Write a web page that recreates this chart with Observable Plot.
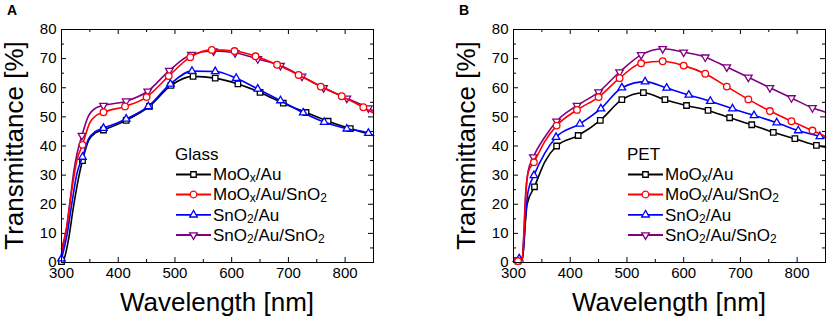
<!DOCTYPE html>
<html><head><meta charset="utf-8">
<script src="https://cdn.jsdelivr.net/npm/d3@7"></script>
<script src="https://cdn.jsdelivr.net/npm/@observablehq/plot@0.6"></script>
<style>
body{margin:0;background:#fff;}
#wrap{display:flex;width:829px;height:317px;overflow:hidden;}
#wrap svg{display:block}
</style></head><body><div id="wrap"></div>
<script>
// ---- tick values ----
const xMajor = [300,400,500,600,700,800];
const xMinor = [350,450,550,650,750,850];
const yMajor = [0,10,20,30,40,50,60,70,80];
const yMinor = [5,15,25,35,45,55,65,75];

// ---- legend / series names ----
const seriesNames = ["MoOx/Au","MoOx/Au/SnO2","SnO2/Au","SnO2/Au/SnO2"];
const seriesColors = ["#000000","#ff0000","#0000ff","#800080"];
const panelTitles = ["Glass","PET"];
const panelLetters = ["A","B"];

// ---- Panel A (Glass) ----
const aBlackWl = [300,305,312,321,330,337,348,360,374,414,455,493,532,571,611,650,691,731,770,809,850];
const aBlackT  = [0.3,1.5,7.5,19,29,35,42,44.5,45.5,48.8,53.6,60.8,63.9,63.3,61.3,58.4,54.7,51.5,48.5,46.0,43.6];
const aBlackMk = [300,337,374,414,455,493,532,571,611,650,691,731,770,809];

const aRedWl = [300,309,318,327,337,350,360,374,412,450,489,527,565,605,642,680,718,757,794,832,850];
const aRedT  = [4.7,12,24.7,35,40.4,48,50.3,51.6,53.6,56.8,64.0,70.5,73.0,72.6,70.8,67.9,64.4,60.4,57.1,53.3,51.3];
const aRedMk = [337,374,412,450,489,527,565,605,642,680,718,757,794,832];

const aBlueWl = [300,309,318,327,337,348,360,374,414,453,492,530,571,608,646,686,726,763,803,841,850];
const aBlueT  = [1.3,8.7,20,30.4,36.2,42.5,45,46.1,49.3,53.6,61.3,65.7,65.6,63.3,59.6,55.6,51.4,48.2,45.9,44.4,43.5];
const aBlueMk = [300,337,374,414,453,492,530,571,608,646,686,726,763,803,841];

const aPurpleWl = [300,309,315,322,327,336,348,360,374,414,452,490,529,568,606,646,686,724,762,803,841,850];
const aPurpleT  = [3,12,21,31.6,37,43.6,50.5,53,53.9,55.4,58.8,65.9,71.4,72.6,72.0,69.9,67.6,63.9,60.0,56.4,53.0,52];
const aPurpleMk = [336,374,414,452,490,529,568,606,646,686,724,762,803,841];

// ---- Panel B (PET) ----
const bBlackWl = [300,308,315,318,321,324,337,355,376,414,453,491,529,567,605,643,681,720,758,796,834,850];
const bBlackT  = [0.3,0.5,0.8,5,14,20,26,34.5,40,43.6,48.8,55.9,58.3,55.9,53.9,52.2,49.7,47.3,44.7,42.5,40.2,39.6];
const bBlackMk = [308,337,376,414,453,491,529,567,605,643,681,720,758,796,834];

const bRedWl = [300,308,315,318,321,326,336,355,376,412,450,487,525,563,600,638,676,714,752,790,827,850];
const bRedT  = [0.3,0.5,0.8,8,21,31,34.4,41.5,47,52.4,56.8,63.3,68.4,69.1,67.6,64.8,60.4,56.0,52.0,48.5,45.3,43.3];
const bRedMk = [308,336,376,412,450,487,525,563,600,638,676,714,752,790,827];

const bBlueWl = [300,305,310,315,318,321,326,336,355,375,417,454,491,532,570,609,647,686,724,764,802,840,850];
const bBlueT  = [0.5,0.5,1.3,1,6,15,24.7,29.9,37.5,43,47.6,52.8,60.0,62.1,59.9,57.5,55.4,52.8,50.5,48.0,45.3,43.3,42.8];
const bBlueMk = [310,336,375,417,454,491,532,570,609,647,686,724,764,802,840];

const bPurpleWl = [300,307,315,318,321,326,335,355,376,412,450,487,525,563,600,638,676,714,752,790,827,850];
const bPurpleT  = [0.3,0.9,0.8,9,22.4,31.5,36.2,43,48.5,53.9,58.5,65.4,71.3,73.4,72.2,70.5,67.1,63.6,60.0,56.5,53.1,51.6];
const bPurpleMk = [307,335,376,412,450,487,525,563,600,638,676,714,752,790,827];

// ---- symbols ----
const sqrt3 = Math.sqrt(3);
const triangleDown = {
  draw(ctx, size) {
    const y = Math.sqrt(size / (sqrt3 * 3));
    ctx.moveTo(0, y * 2);
    ctx.lineTo(-sqrt3 * y, -y);
    ctx.lineTo(sqrt3 * y, -y);
    ctx.closePath();
  }
};
const seriesSymbols = ["square","circle","triangle",triangleDown];
const seriesR = [3.1,3.3,2.8,2.8];

const plotW = 312, plotH = 233;
const FONT = "'Liberation Sans', Arial, sans-serif";

function rows(wl, t) { return wl.map((w, i) => ({wl: w, t: t[i]})); }

function makePanel(p, data, width, ml, mr) {
  // draw order: black, purple, blue, red
  const order = [0, 3, 2, 1];
  const marks = [
    Plot.tickX(xMajor, {x: d => d, insetTop: plotH - 5, stroke: "black"}),
    Plot.tickX(xMajor, {x: d => d, insetBottom: plotH - 5, stroke: "black"}),
    Plot.tickX(xMinor, {x: d => d, insetTop: plotH - 3, stroke: "black"}),
    Plot.tickX(xMinor, {x: d => d, insetBottom: plotH - 3, stroke: "black"}),
    Plot.tickY(yMajor, {y: d => d, insetRight: plotW - 5, stroke: "black"}),
    Plot.tickY(yMajor, {y: d => d, insetLeft: plotW - 5, stroke: "black"}),
    Plot.tickY(yMinor, {y: d => d, insetRight: plotW - 3, stroke: "black"}),
    Plot.tickY(yMinor, {y: d => d, insetLeft: plotW - 3, stroke: "black"})
  ];
  for (const k of order) {
    const [wl, t, mk] = data[k];
    const r = rows(wl, t);
    marks.push(Plot.line(r, {x: "wl", y: "t", stroke: seriesColors[k], strokeWidth: 1.6, curve: "monotone-x"}));
    marks.push(Plot.dot(r.filter(d => mk.includes(d.wl)), {x: "wl", y: "t", symbol: seriesSymbols[k], r: seriesR[k], stroke: seriesColors[k], fill: "white", strokeWidth: 1.3}));
  }
  marks.push(Plot.frame({stroke: "black", strokeWidth: 1}));
  marks.push(Plot.axisX({ticks: xMajor, tickSize: 0, tickPadding: 5, label: null, fontSize: 15}));
  marks.push(Plot.axisY({ticks: yMajor, tickSize: 0, tickPadding: 5, label: null, fontSize: 15}));

  const svg = Plot.plot({
    width, height: 317,
    marginLeft: ml, marginRight: mr, marginTop: 29, marginBottom: 55,
    x: {domain: [300, 850], label: null},
    y: {domain: [0, 80], label: null},
    style: {fontFamily: FONT, fontSize: "15px", background: "white", color: "black", overflow: "visible"},
    marks
  });

  const s = d3.select(svg);
  const cx = ml + plotW / 2;
  s.append("text").attr("x", cx).attr("y", 311).attr("text-anchor", "middle")
    .attr("font-size", 26).attr("font-family", FONT).attr("fill", "black").text("Wavelength [nm]");
  s.append("text").attr("transform", `translate(${ml - 38},${29 + plotH / 2}) rotate(-90)`)
    .attr("text-anchor", "middle").attr("font-size", 26).attr("font-family", FONT).attr("fill", "black")
    .text("Transmittance [%]");
  s.append("text").attr("x", ml - 54).attr("y", 15).attr("text-anchor", "start").attr("font-size", 14)
    .attr("font-weight", "bold").attr("font-family", FONT).attr("fill", "black").text(panelLetters[p]);

  // legend
  const lx = ml + 115;
  s.append("text").attr("x", lx - 1).attr("y", 154).attr("dy", "0.35em").attr("text-anchor", "start")
    .attr("font-size", 17).attr("font-family", FONT).attr("fill", "black").text(panelTitles[p]);
  const ys = [174.5, 194.5, 214.8, 235];
  seriesNames.forEach((name, k) => {
    const y = ys[k];
    s.append("line").attr("x1", lx).attr("x2", lx + 35).attr("y1", y).attr("y2", y)
      .attr("stroke", seriesColors[k]).attr("stroke-width", 1.8);
    const sym = typeof seriesSymbols[k] === "string"
      ? {square: d3.symbolSquare, circle: d3.symbolCircle, triangle: d3.symbolTriangle}[seriesSymbols[k]]
      : seriesSymbols[k];
    s.append("path").attr("transform", `translate(${lx + 17.5},${y})`)
      .attr("d", d3.symbol(sym, Math.PI * seriesR[k] * seriesR[k])())
      .attr("fill", "white").attr("stroke", seriesColors[k]).attr("stroke-width", 1.3);
    const txt = s.append("text").attr("x", lx + 37).attr("y", y).attr("dy", "0.35em")
      .attr("text-anchor", "start")
      .attr("font-size", 17).attr("font-family", FONT).attr("fill", "black");
    // subscripts: "x" after MoO, "2" after SnO
    const parts = name.split(/(MoOx|SnO2)/).filter(Boolean);
    let shifted = false;
    parts.forEach(part => {
      if (part === "MoOx" || part === "SnO2") {
        txt.append("tspan").attr("dy", shifted ? "-2" : null).text(part.slice(0, 3));
        txt.append("tspan").attr("font-size", 12).attr("dy", "2").text(part.slice(3));
        shifted = true;
      } else {
        txt.append("tspan").attr("dy", shifted ? "-2" : null).text(part);
        shifted = false;
      }
    });
  });
  return svg;
}

const wrap = document.getElementById("wrap");
wrap.appendChild(makePanel(0, [
  [aBlackWl, aBlackT, aBlackMk],
  [aRedWl, aRedT, aRedMk],
  [aBlueWl, aBlueT, aBlueMk],
  [aPurpleWl, aPurpleT, aPurpleMk]
], 414, 61, 41));
wrap.appendChild(makePanel(1, [
  [bBlackWl, bBlackT, bBlackMk],
  [bRedWl, bRedT, bRedMk],
  [bBlueWl, bBlueT, bBlueMk],
  [bPurpleWl, bPurpleT, bPurpleMk]
], 415, 99, 4));
</script></body></html>
